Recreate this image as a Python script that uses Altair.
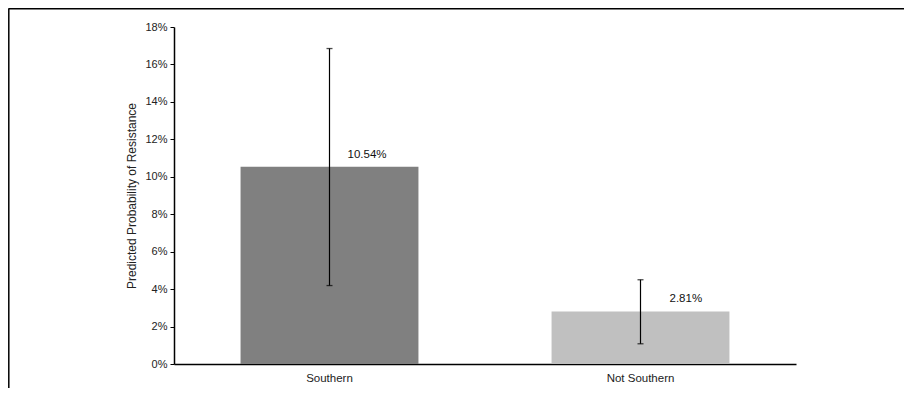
import altair as alt
import pandas as pd

categories = ["Southern", "Not Southern"]
probabilities = [0.1054, 0.0281]
lower_bounds = [0.0419, 0.0108]
upper_bounds = [0.1685, 0.0450]
value_labels = ["10.54%", "2.81%"]
bar_colors = ["#808080", "#c0c0c0"]
y_ticks = [0, 0.02, 0.04, 0.06, 0.08, 0.10, 0.12, 0.14, 0.16, 0.18]

df = pd.DataFrame({
    "group": categories,
    "p": probabilities,
    "lo": lower_bounds,
    "hi": upper_bounds,
    "label": value_labels,
})

FONT = "Liberation Sans"

x_axis = alt.Axis(title=None, ticks=False, labelPadding=8, labelAngle=0, labelFontSize=11.5,
                  domainColor="#000000", domainWidth=1.5)
x_scale = alt.Scale(paddingInner=0.428, paddingOuter=0.214)
y_axis = alt.Axis(
    title="Predicted Probability of Resistance",
    values=y_ticks,
    format=".0%",
    grid=False,
    labelOverlap=False,
    labelFontSize=11,
    titleFontSize=12,
    tickSize=4,
    tickColor="#000000",
    labelPadding=3,
    titlePadding=6,
    domainColor="#000000",
    domainWidth=1.5,
)
y_scale = alt.Scale(domain=[0, 0.18], nice=False)


def X():
    return alt.X("group:N", sort=categories, scale=x_scale, axis=x_axis)


def Y(field):
    return alt.Y(field, type="quantitative", scale=y_scale, axis=y_axis)


base = alt.Chart(df)

bars = base.mark_bar().encode(
    x=X(),
    y=Y("p"),
    color=alt.Color("group:N", scale=alt.Scale(domain=categories, range=bar_colors), legend=None),
)

rules = base.mark_rule(color="#000000", strokeWidth=1.2).encode(
    x=X(),
    y=Y("lo"),
    y2="hi:Q",
)

caps_hi = base.mark_tick(color="#000000", size=6, thickness=1.3, orient="horizontal").encode(
    x=X(),
    y=Y("hi"),
)
caps_lo = base.mark_tick(color="#000000", size=6, thickness=1.3, orient="horizontal").encode(
    x=X(),
    y=Y("lo"),
)

label_s = base.transform_filter(alt.datum.group == categories[0]).mark_text(
    align="left", baseline="middle", dx=18, dy=-11.5, font=FONT, fontSize=11.5, color="#111111"
).encode(
    x=X(),
    y=Y("p"),
    text="label:N",
)
label_n = base.transform_filter(alt.datum.group == categories[1]).mark_text(
    align="left", baseline="middle", dx=29, dy=-12, font=FONT, fontSize=11.5, color="#111111"
).encode(
    x=X(),
    y=Y("p"),
    text="label:N",
)

frame_df = pd.DataFrame({"k": [0]})
frame_top = alt.Chart(frame_df).mark_rule(color="#000000", strokeWidth=1.5).encode(
    x=alt.value(-165.5),
    x2=alt.value(760),
    y=alt.value(-18.2),
)
frame_left = alt.Chart(frame_df).mark_rule(color="#000000", strokeWidth=1.5).encode(
    x=alt.value(-165.2),
    y=alt.value(-18.5),
    y2=alt.value(400),
)

chart = alt.layer(bars, rules, caps_hi, caps_lo, label_s, label_n, frame_top, frame_left).properties(
    width=622,
    height=337,
    padding={"left": 166, "top": 19, "right": 108, "bottom": 24},
    autosize=alt.AutoSizeParams(type="none"),
).configure_view(stroke=None).configure_axis(
    labelFont=FONT, titleFont=FONT,
    labelColor="#222222", titleColor="#222222", titleFontWeight="normal",
)

chart.save("out.html", embed_options={"renderer": "svg", "actions": False})
